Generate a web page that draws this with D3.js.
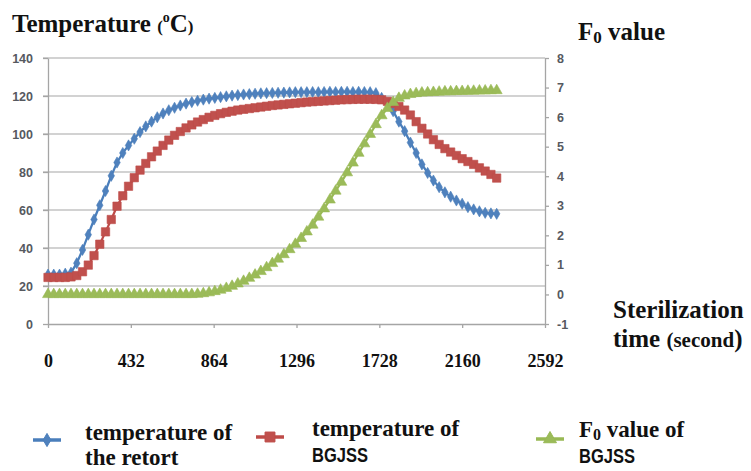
<!DOCTYPE html>
<html lang="en">
<head>
  <meta charset="UTF-8">
  <title>Retort and BGJSS temperature with F0 value</title>
  <style>
    body {
      margin: 0;
      background-color: #fff;
    }

    .chart {
      display: block;
      background-color: #fff;
    }

    .grid line {
      stroke: #c3c3c3;
      stroke-width: 1.5;
    }

    .axis path,
    .axis line {
      stroke: #a5a5a5;
      stroke-width: 1.3;
    }

    .y-axis text {
      font-family: "Liberation Sans", Arial, sans-serif;
      font-size: 12.5px;
      font-weight: bold;
      fill: #56595f;
    }

    .x-axis text {
      font-family: "Liberation Serif", "Times New Roman", serif;
      font-size: 18px;
      font-weight: bold;
      fill: #111;
    }

    .label {
      font-family: "Liberation Serif", "Times New Roman", serif;
      font-weight: bold;
      fill: #111;
    }

    .narrow {
      font-family: "Liberation Sans Narrow", "Arial Narrow", "Liberation Sans", sans-serif;
      font-weight: bold;
      fill: #111;
    }
  </style>
</head>
<body>
  <svg class="chart" width="751" height="471"></svg>
  <script src="https://d3js.org/d3.v7.min.js"></script>
  <script>
    // sterilization time (s), one reading every 30 s
    const times = [
      0, 30, 60, 90, 120, 150, 180, 210, 240, 270,
      300, 330, 360, 390, 420, 450, 480, 510, 540, 570,
      600, 630, 660, 690, 720, 750, 780, 810, 840, 870,
      900, 930, 960, 990, 1020, 1050, 1080, 1110, 1140, 1170,
      1200, 1230, 1260, 1290, 1320, 1350, 1380, 1410, 1440, 1470,
      1500, 1530, 1560, 1590, 1620, 1650, 1680, 1710, 1740, 1770,
      1800, 1830, 1860, 1890, 1920, 1950, 1980, 2010, 2040, 2070,
      2100, 2130, 2160, 2190, 2220, 2250, 2280, 2310, 2340
    ];

    const retortTemp = [
      26, 26, 26, 26.5, 27, 32, 39, 47, 55, 62.5,
      70, 78, 85, 90, 94, 97.5, 101, 104, 106.5, 108.8,
      110.8, 112.5, 113.8, 115, 116, 116.8, 117.5, 118.1, 118.6, 119,
      119.4, 119.8, 120.2, 120.5, 120.8, 121, 121.2, 121.4, 121.5, 121.6,
      121.7, 121.8, 121.9, 122, 122, 122, 122.1, 122, 122.1, 122.2,
      122.1, 122.2, 122.2, 122.1, 122.2, 122.1, 122, 121.5, 119, 116,
      112, 106.5, 101.5, 95.5, 90, 84, 79.5, 75.5, 72, 69.3,
      67, 65, 63.3, 61.5, 60.3, 59.3, 58.5, 58.2, 58
    ];

    const bgjssTemp = [
      24.5, 24.5, 24.5, 24.5, 24.8, 25.5, 27.5, 31, 36, 42,
      48.5, 55, 62, 67.5, 72.5, 77, 81, 84.5, 88, 91,
      94, 96.8, 99.3, 101.3, 103.2, 104.8, 106.3, 107.6, 108.8, 109.8,
      110.7, 111.4, 112, 112.6, 113, 113.4, 113.8, 114.2, 114.6, 115,
      115.3, 115.6, 115.9, 116.2, 116.5, 116.8, 117, 117.2, 117.4, 117.6,
      117.8, 118, 118.1, 118.2, 118.3, 118.3, 118.3, 118.2, 118, 117.2,
      116, 114.5, 112.6, 110, 106.5, 103, 100, 97, 94.5, 92.3,
      90.5, 88.7, 87, 85.5, 84, 82.2, 80.5, 78.7, 76.8
    ];

    const f0Value = [
      0, 0, 0, 0, 0, 0, 0, 0, 0, 0,
      0, 0, 0, 0, 0, 0, 0, 0, 0, 0,
      0, 0, 0, 0, 0, 0, 0.01, 0.03, 0.06, 0.1,
      0.15, 0.21, 0.28, 0.36, 0.45, 0.55, 0.66, 0.78, 0.91, 1.05,
      1.2, 1.35, 1.52, 1.7, 1.9, 2.12, 2.35, 2.62, 2.9, 3.2,
      3.5, 3.8, 4.12, 4.45, 4.78, 5.1, 5.42, 5.75, 6.05, 6.3,
      6.5, 6.64, 6.72, 6.77, 6.8, 6.82, 6.83, 6.84, 6.85, 6.86,
      6.86, 6.87, 6.87, 6.88, 6.88, 6.89, 6.89, 6.9, 6.9
    ];

    const xTicks = [0, 432, 864, 1296, 1728, 2160, 2592];
    const tempTicks = [0, 20, 40, 60, 80, 100, 120, 140];
    const f0Ticks = [-1, 0, 1, 2, 3, 4, 5, 6, 7, 8];

    const svg = d3.select('.chart');

    const plot = { left: 48, right: 545, top: 58, bottom: 324 };

    const x = d3.scaleLinear().domain([0, 2592]).range([plot.left, plot.right]);
    const yTemp = d3.scaleLinear().domain([0, 140]).range([plot.bottom, plot.top]);
    const yF0 = d3.scaleLinear().domain([-1, 8]).range([plot.bottom, plot.top]);

    // horizontal gridlines (left axis), poking out a little as tick marks
    svg.append('g')
      .attr('class', 'grid')
      .selectAll('line')
      .data(tempTicks.filter(d => d > 0))
      .join('line')
      .attr('x1', plot.left - 5)
      .attr('x2', plot.right)
      .attr('y1', d => yTemp(d))
      .attr('y2', d => yTemp(d));

    svg.append('g')
      .attr('class', 'axis y-axis')
      .attr('transform', `translate(${plot.left},0)`)
      .call(d3.axisLeft(yTemp).tickValues(tempTicks).tickSize(5).tickPadding(10).tickSizeOuter(0));

    svg.append('g')
      .attr('class', 'axis y-axis')
      .attr('transform', `translate(${plot.right},0)`)
      .call(d3.axisRight(yF0).tickValues(f0Ticks).tickFormat(d => String(d))
        .tickSize(4).tickPadding(8).tickSizeOuter(0));

    svg.append('g')
      .attr('class', 'axis x-axis')
      .attr('transform', `translate(0,${plot.bottom})`)
      .call(d3.axisBottom(x).tickValues(xTicks).tickFormat(d => String(d))
        .tickSize(4).tickPadding(26).tickSizeOuter(0));

    const series = [
      { name: 'retort', values: retortTemp, y: yTemp, color: '#4a7ebb', fill: '#4f81bd', symbol: d3.symbolDiamond, size: 36 },
      { name: 'bgjss', values: bgjssTemp, y: yTemp, color: '#be4b48', fill: '#c0504d', symbol: d3.symbolSquare, size: 70 },
      { name: 'f0', values: f0Value, y: yF0, color: '#98b954', fill: '#9bbb59', symbol: d3.symbolTriangle, size: 52 }
    ];

    series.forEach(s => {
      const pts = times.map((t, i) => [t, s.values[i]]);
      const line = d3.line().x(d => x(d[0])).y(d => s.y(d[1]));

      svg.append('path')
        .datum(pts)
        .attr('fill', 'none')
        .attr('stroke', s.color)
        .attr('stroke-width', 2.25)
        .attr('d', line);

      svg.append('g')
        .selectAll('path')
        .data(pts)
        .join('path')
        .attr('transform', d => `translate(${x(d[0])},${s.y(d[1])})`)
        .attr('d', d3.symbol(s.symbol, s.size))
        .attr('fill', s.fill)
        .attr('stroke', s.color)
        .attr('stroke-width', 0.6);
    });

    // axis titles
    const title = svg.append('text')
      .attr('class', 'label')
      .attr('x', 12)
      .attr('y', 32)
      .style('font-size', '25px');
    title.append('tspan').text('Temperature ');
    title.append('tspan').style('font-size', '17px').text('(');
    title.append('tspan').style('font-size', '14px').attr('dy', -10).text('o');
    title.append('tspan').attr('dy', 10).text('C');
    title.append('tspan').style('font-size', '17px').text(')');

    const f0Title = svg.append('text')
      .attr('class', 'label')
      .attr('x', 578)
      .attr('y', 40)
      .style('font-size', '25px');
    f0Title.append('tspan').text('F');
    f0Title.append('tspan').style('font-size', '17px').attr('dy', 3).text('0');
    f0Title.append('tspan').attr('dy', -3).text(' value');

    svg.append('text')
      .attr('class', 'label')
      .attr('x', 613)
      .attr('y', 318)
      .style('font-size', '25px')
      .text('Sterilization');

    const timeTitle = svg.append('text')
      .attr('class', 'label')
      .attr('x', 613)
      .attr('y', 347)
      .style('font-size', '25px');
    timeTitle.append('tspan').text('time ');
    timeTitle.append('tspan').style('font-size', '21px').text('(second');
    timeTitle.append('tspan').text(')');

    // legend
    const legendItems = [
      { s: series[0], cx: 47, cy: 440, tx: 85, ty: 440, line2: 'the retort', narrow: false },
      { s: series[1], cx: 270, cy: 437, tx: 312, ty: 436, line2: 'BGJSS', narrow: true },
      { s: series[2], cx: 550, cy: 439, tx: 579, ty: 437, line2: 'BGJSS', narrow: true }
    ];

    legendItems.forEach((item, i) => {
      const g = svg.append('g');
      g.append('line')
        .attr('x1', item.cx - 14)
        .attr('x2', item.cx + 14)
        .attr('y1', item.cy)
        .attr('y2', item.cy)
        .attr('stroke', item.s.color)
        .attr('stroke-width', 3.5);
      g.append('path')
        .attr('transform', `translate(${item.cx},${item.cy})`)
        .attr('d', d3.symbol(item.s.symbol, item.s.size * 1.4))
        .attr('fill', item.s.fill)
        .attr('stroke', item.s.color);

      const first = g.append('text')
        .attr('class', 'label')
        .attr('x', item.tx)
        .attr('y', item.ty)
        .style('font-size', '23px');
      if (i === 2) {
        first.append('tspan').text('F');
        first.append('tspan').style('font-size', '16px').attr('dy', 3).text('0');
        first.append('tspan').attr('dy', -3).text(' value of');
      } else {
        first.text('temperature of');
      }

      const second = g.append('text')
        .attr('class', item.narrow ? 'narrow' : 'label')
        .attr('x', item.tx)
        .attr('y', item.narrow ? item.ty + 26 : 465)
        .style('font-size', item.narrow ? '21px' : '23px')
        .text(item.line2);
      if (item.narrow) {
        second.attr('textLength', 56).attr('lengthAdjust', 'spacingAndGlyphs');
      }
    });
  </script>
</body>
</html>
